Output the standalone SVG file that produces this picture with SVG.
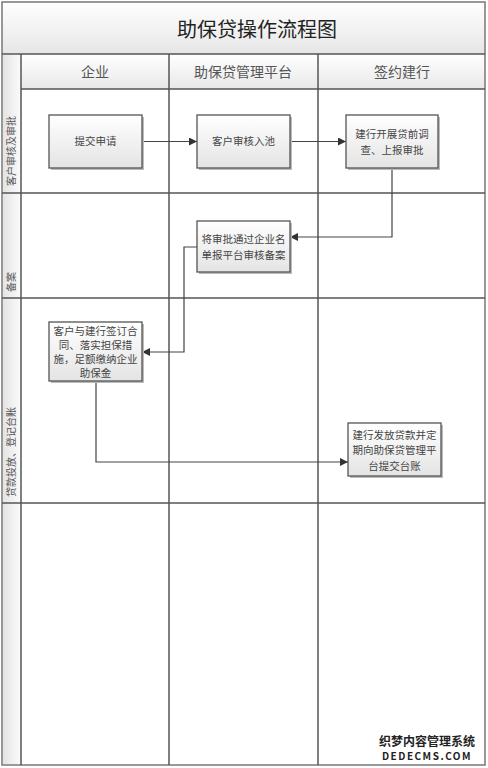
<svg xmlns="http://www.w3.org/2000/svg" width="488" height="768" viewBox="0 0 488 768">
<defs>
  <linearGradient id="gTitle" x1="0" y1="0" x2="0" y2="1">
    <stop offset="0" stop-color="#ffffff"/>
    <stop offset="1" stop-color="#e6e6e6"/>
  </linearGradient>
  <linearGradient id="gHead" x1="0" y1="0" x2="0" y2="1">
    <stop offset="0" stop-color="#ffffff"/>
    <stop offset="1" stop-color="#e8e8e8"/>
  </linearGradient>
  <linearGradient id="gStrip" x1="0" y1="0" x2="1" y2="0">
    <stop offset="0" stop-color="#e4e4e4"/>
    <stop offset="1" stop-color="#fafafa"/>
  </linearGradient>
  <linearGradient id="gNode" x1="0" y1="0" x2="0" y2="1">
    <stop offset="0" stop-color="#ffffff"/>
    <stop offset="1" stop-color="#e4e4e4"/>
  </linearGradient>
  <marker id="arr" viewBox="0 0 10 10" refX="10" refY="5" markerWidth="8" markerHeight="8" markerUnits="userSpaceOnUse" orient="auto">
    <path d="M0,0 L10,5 L0,10 z" fill="#333"/>
  </marker>
  <style>
    .grid{fill:none;stroke:#555;stroke-width:1.5}
    .node rect.box{fill:url(#gNode);stroke:#555;stroke-width:1.3}
    .node rect.sh{fill:#bbb}
    .nt{font-family:"Noto Sans CJK SC","Noto Sans",sans-serif;font-size:10.5px;fill:#444;text-anchor:middle}
    .hd{font-family:"Noto Sans CJK SC","Noto Sans",sans-serif;font-size:14px;fill:#555;text-anchor:middle}
    .lane{font-family:"Noto Sans CJK SC","Noto Sans",sans-serif;font-size:10px;fill:#555}
    .conn{fill:none;stroke:#444;stroke-width:1.2;marker-end:url(#arr)}
  </style>
</defs>
<rect x="0" y="0" width="488" height="768" fill="#ffffff"/>
<g id="frame">
  <rect x="2" y="2" width="483" height="52" fill="url(#gTitle)"/>
  <rect x="21" y="54" width="464" height="35" fill="url(#gHead)"/>
  <rect x="3" y="55" width="17" height="709" fill="url(#gStrip)"/>
  <rect x="2" y="2" width="483" height="763" fill="none" stroke="#777" stroke-width="1.5"/>
  <line x1="2" y1="54" x2="485" y2="54" class="grid"/>
  <line x1="21" y1="89" x2="485" y2="89" class="grid"/>
  <line x1="2" y1="193" x2="485" y2="193" class="grid"/>
  <line x1="2" y1="298" x2="485" y2="298" class="grid"/>
  <line x1="2" y1="503" x2="485" y2="503" class="grid"/>
  <line x1="21" y1="54" x2="21" y2="765" class="grid"/>
  <line x1="169" y1="54" x2="169" y2="765" class="grid"/>
  <line x1="318" y1="54" x2="318" y2="765" class="grid"/>
  <text x="257" y="37" font-family="'Noto Sans CJK SC',sans-serif" font-size="20" fill="#222" text-anchor="middle">助保贷操作流程图</text>
  <text x="95" y="77" class="hd">企业</text>
  <text x="243" y="77" class="hd">助保贷管理平台</text>
  <text x="402" y="77" class="hd">签约建行</text>
  <text class="lane" transform="translate(15,186) rotate(-90)">客户审核及审批</text>
  <text class="lane" transform="translate(15,292) rotate(-90)">备案</text>
  <text class="lane" transform="translate(15,497) rotate(-90)">贷款投放、登记台账</text>
</g>
<g id="connectors">
  <line x1="142" y1="141.5" x2="197" y2="141.5" class="conn"/>
  <line x1="290" y1="141.5" x2="346" y2="141.5" class="conn"/>
  <polyline points="392,168 392,237 290,237" class="conn"/>
  <polyline points="197,247 184,247 184,352 142,352" class="conn"/>
  <polyline points="96,381 96,462 348,462" class="conn"/>
</g>
<g id="n1" class="node">
  <rect class="sh" x="51" y="117" width="93" height="53"/>
  <rect class="box" x="49" y="115" width="93" height="53"/>
  <text class="nt" x="95.5" y="145">提交申请</text>
</g>
<g id="n2" class="node">
  <rect class="sh" x="199" y="117" width="93" height="53"/>
  <rect class="box" x="197" y="115" width="93" height="53"/>
  <text class="nt" x="243.5" y="145">客户审核入池</text>
</g>
<g id="n3" class="node">
  <rect class="sh" x="348" y="117" width="92" height="53"/>
  <rect class="box" x="346" y="115" width="92" height="53"/>
  <text class="nt" y="138.4"><tspan x="392">建行开展贷前调</tspan><tspan x="392" dy="15.3">查、上报审批</tspan></text>
</g>
<g id="n4" class="node">
  <rect class="sh" x="199" y="223" width="93" height="51"/>
  <rect class="box" x="197" y="221" width="93" height="51"/>
  <text class="nt" y="243.4"><tspan x="243.5">将审批通过企业名</tspan><tspan x="243.5" dy="15.3">单报平台审核备案</tspan></text>
</g>
<g id="n5" class="node">
  <rect class="sh" x="51" y="324" width="93" height="59"/>
  <rect class="box" x="49" y="322" width="93" height="59"/>
  <text class="nt" y="335" font-size="9.5px"><tspan x="95.5">客户与建行签订合</tspan><tspan x="95.5" dy="13.9">同、落实担保措</tspan><tspan x="95.5" dy="13.9">施，足额缴纳企业</tspan><tspan x="95.5" dy="13.9">助保金</tspan></text>
</g>
<g id="n6" class="node">
  <rect class="sh" x="350" y="425" width="93" height="53"/>
  <rect class="box" x="348" y="423" width="93" height="53"/>
  <text class="nt" y="439"><tspan x="394.5">建行发放贷款并定</tspan><tspan x="394.5" dy="15.3">期向助保贷管理平</tspan><tspan x="394.5" dy="15.3">台提交台账</tspan></text>
</g>
<g id="watermark" font-family="'Noto Sans CJK SC',sans-serif" font-weight="bold" fill="#222" stroke="#fff" stroke-width="2.5" paint-order="stroke" text-anchor="middle">
  <text x="427" y="746" font-size="12">织梦内容管理系统</text>
  <text x="427" y="760" font-size="10" letter-spacing="1.5">DEDECMS.COM</text>
</g>
</svg>
